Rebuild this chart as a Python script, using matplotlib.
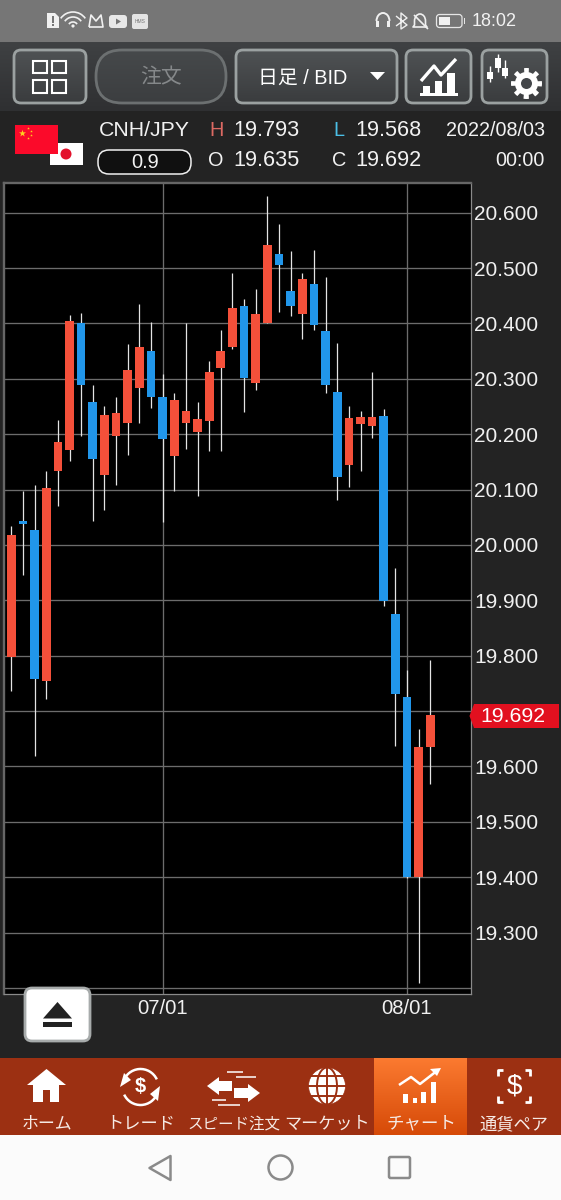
import numpy as np
import matplotlib
matplotlib.use('Agg')
import matplotlib.pyplot as plt
from matplotlib.patches import Rectangle, Polygon, Circle, Ellipse, Arc, FancyBboxPatch

plt.rcParams['font.family'] = ['Liberation Sans', 'Noto Sans CJK JP', 'DejaVu Sans']

# daily candles, oldest first
opens = [19.798, 20.044, 20.027, 19.754, 20.134, 20.171, 20.401, 20.258, 20.126, 20.197,
         20.221, 20.283, 20.351, 20.267, 20.161, 20.220, 20.204, 20.223, 20.320, 20.357,
         20.431, 20.292, 20.400, 20.525, 20.459, 20.417, 20.471, 20.386, 20.276, 20.145,
         20.219, 20.214, 20.233, 19.875, 19.725, 19.401, 19.635]
highs = [20.035, 20.097, 20.108, 20.133, 20.226, 20.415, 20.418, 20.288, 20.251, 20.267,
         20.362, 20.436, 20.403, 20.309, 20.275, 20.400, 20.259, 20.332, 20.389, 20.491,
         20.444, 20.462, 20.630, 20.580, 20.531, 20.491, 20.532, 20.484, 20.364, 20.251,
         20.241, 20.313, 20.245, 19.958, 19.774, 19.667, 19.793]
lows = [19.737, 19.945, 19.619, 19.722, 20.071, 20.151, 20.197, 20.044, 20.063, 20.109,
        20.162, 20.221, 20.247, 20.041, 20.097, 20.174, 20.088, 20.170, 20.170, 20.354,
        20.240, 20.279, 20.400, 20.421, 20.414, 20.372, 20.388, 20.274, 20.082, 20.105,
        20.134, 20.193, 19.890, 19.637, 19.398, 19.209, 19.568]
closes = [20.018, 20.038, 19.758, 20.102, 20.185, 20.405, 20.288, 20.156, 20.235, 20.238,
          20.316, 20.357, 20.268, 20.191, 20.262, 20.241, 20.228, 20.312, 20.351, 20.428,
          20.302, 20.417, 20.542, 20.506, 20.432, 20.481, 20.398, 20.288, 20.123, 20.229,
          20.231, 20.231, 19.899, 19.731, 19.401, 19.635, 19.692]

price_ticks = [20.6, 20.5, 20.4, 20.3, 20.2, 20.1, 20.0, 19.9, 19.8, 19.7, 19.6, 19.5, 19.4, 19.3, 19.2]
price_labels = ['20.600', '20.500', '20.400', '20.300', '20.200', '20.100', '20.000', '19.900',
                '19.800', '', '19.600', '19.500', '19.400', '19.300', '']
date_ticks = [13, 34]
date_labels = ['07/01', '08/01']

tab_names = ['ホーム', 'トレード', 'スピード注文', 'マーケット', 'チャート', '通貨ペア']
tab_centers = [47, 141, 234, 327, 421, 514]
tab_sizes = [12.2, 12.4, 11.2, 12.3, 12.6, 12.4]

UP = '#f4503a'
DOWN = '#2196ea'
BG = '#232323'
TAB = '#9c3012'

fig = plt.figure(figsize=(5.61, 12), dpi=100, facecolor=BG)

# chrome drawn in screen pixels
base = fig.add_axes([0, 0, 1, 1], zorder=0)
base.set_xlim(0, 561)
base.set_ylim(1200, 0)
base.axis('off')
top = fig.add_axes([0, 0, 1, 1], zorder=2)
top.set_xlim(0, 561)
top.set_ylim(1200, 0)
top.axis('off')
top.patch.set_alpha(0)


def gradient(ax, x0, y0, x1, y1, c_top, c_bot, clip=None):
    a = np.array(matplotlib.colors.to_rgb(c_top))
    b = np.array(matplotlib.colors.to_rgb(c_bot))
    g = np.linspace(0, 1, 64)[:, None, None] * (b - a) + a
    im = ax.imshow(g, extent=(x0, x1, y1, y0), aspect='auto', zorder=1, interpolation='bilinear')
    if clip is not None:
        im.set_clip_path(clip)
    ax.set_xlim(0, 561)
    ax.set_ylim(1200, 0)


def rbox(ax, x0, y0, x1, y1, r, fc='none', ec='none', lw=0.0, z=3):
    p = FancyBboxPatch((x0 + r, y0 + r), x1 - x0 - 2 * r, y1 - y0 - 2 * r,
                       boxstyle='round,pad=%f,rounding_size=%f' % (r, r),
                       fc=fc, ec=ec, lw=lw, zorder=z)
    ax.add_patch(p)
    return p


def button(x0, x1, ec='#9ba1a1', r=7, c_top='#4f5254', c_bot='#3a3c3e'):
    p = rbox(base, x0 + 1, 50, x1 - 1, 103, r, fc='none', ec='none')
    gradient(base, x0 + 1, 50, x1 - 1, 103, c_top, c_bot, clip=p)
    rbox(base, x0 + 1, 50, x1 - 1, 103, r, ec=ec, lw=2.0, z=3)


def txt(x, y, s, size, color='white', ha='center', ax=base, **kw):
    ax.text(x, y, s, fontsize=size, color=color, ha=ha, va='center', zorder=6, **kw)


def rect(x0, y0, x1, y1, c, ax=base, z=4):
    ax.add_patch(Rectangle((x0, y0), x1 - x0, y1 - y0, fc=c, ec='none', zorder=z))


def poly(pts, c, ax=base, z=4):
    ax.add_patch(Polygon(pts, closed=True, fc=c, ec='none', zorder=z))


def line(xs, ys, c='white', lw=1.5, ax=base, z=5):
    ax.plot(xs, ys, color=c, lw=lw, zorder=z, solid_capstyle='butt')


# status bar and toolbar
rect(0, 0, 561, 42, '#767676', z=0)
gradient(base, 0, 42, 561, 111, '#3f4143', '#2f3032')

# left status icons
poly([(47, 13), (55, 13), (59, 17), (59, 28), (47, 28)], '#f0f0f0')
rect(52, 16, 54, 23, '#767676', z=5)
rect(52, 24, 54, 26, '#767676', z=5)
for r in (5, 10, 15):
    base.add_patch(Arc((73, 27), 2 * r, 2 * r, theta1=215, theta2=325, ec='#f0f0f0', lw=1.2, zorder=4))
base.add_patch(Circle((73, 26), 1.6, fc='#f0f0f0', ec='none', zorder=4))
line([89, 91, 96, 101, 103, 89], [27, 15, 21, 15, 27, 27], '#f0f0f0', 1.2)
rbox(base, 109, 15, 127, 28, 3, fc='#e8e8e8', z=4)
poly([(116, 18.5), (116, 24.5), (121, 21.5)], '#767676', z=5)
rbox(base, 132, 14, 148, 29, 2, fc='#e4e4e4', z=4)
txt(140, 21.5, 'HMS', 3.6, '#777777')

# right status icons
base.add_patch(Arc((383, 21), 13, 16, theta1=180, theta2=360, ec='#f0f0f0', lw=1.4, zorder=4))
rect(376, 21, 379, 27, '#f0f0f0')
rect(387, 21, 390, 27, '#f0f0f0')
line([396, 407, 401, 401, 407, 396], [16, 25, 29, 13, 18, 26], '#f0f0f0', 1.0)
base.add_patch(Arc((420, 21), 11, 14, theta1=180, theta2=360, ec='#f0f0f0', lw=1.2, zorder=4))
line([414.5, 414.5, 413, 427, 425.5, 425.5], [21, 25, 27, 27, 25, 21], '#f0f0f0', 1.2)
line([414, 428], [15, 29], '#f0f0f0', 1.2)
rbox(base, 436.5, 14.5, 462, 27.5, 3, ec='#e6e6e6', lw=0.9, z=4)
rect(439, 17, 450, 25, '#f0f0f0')
rect(464, 18, 465.5, 24, '#e6e6e6')
txt(472, 21.5, '18:02', 13.0, '#f2f2f2', ha='left')

# toolbar buttons
button(13, 87)
for bx in (33, 52):
    for by in (60.5, 80):
        base.add_patch(Rectangle((bx, by), 14, 12.5, fc='none', ec='white', lw=1.5, zorder=5))

button(95, 227, ec='#6c7071', r=26, c_top='#46494b', c_bot='#3c3e40')
txt(161, 78, '注文', 15, '#85888a')

button(235, 398)
txt(302.5, 78.5, '日足 / BID', 14.3)
poly([(370, 72), (385, 72), (377.5, 80)], 'white')

button(405, 472)
rect(420, 93, 458, 95.5, 'white')
rect(423, 86, 430, 93, 'white')
rect(435, 81, 442, 93, 'white')
rect(447, 73, 455, 93, 'white')
line([421, 434, 441, 456], [81, 66, 75, 59], 'white', 2.4)

button(481, 548)
for cx, y0, y1, w0, w1 in [(490, 66, 82, 72, 79), (498, 54, 72, 58, 68), (505, 60, 78, 68, 76)]:
    line([cx, cx], [y0, y1], 'white', 1.0)
    rect(cx - 2.8, w0, cx + 2.8, w1, 'white')
theta = np.linspace(0, 2 * np.pi, 160, endpoint=False)
gear_r = 11.5 + 4 * (np.cos(8 * theta) > 0)
poly(np.c_[526.5 + gear_r * np.cos(theta), 83.5 + gear_r * np.sin(theta)], 'white')
base.add_patch(Circle((526.5, 83.5), 5.5, fc='#43464a', ec='none', zorder=5))

# header row
rect(15, 125, 58, 153.5, '#fb0a2a', z=4)
rect(50, 143, 83, 165, 'white', z=3)
base.add_patch(Circle((66, 154), 5.5, fc='#e3122c', ec='none', zorder=4))
base.scatter([22], [133], marker='*', s=28, c='#ffd21f', zorder=5, linewidths=0)
base.scatter([28, 31, 31, 28], [128, 131, 135, 138], marker='*', s=4, c='#ffd21f', zorder=5, linewidths=0)

txt(98.5, 130.5, 'CNH/JPY', 15.3, '#f2f2f2', ha='left')
rbox(base, 98, 150, 191, 174, 11, fc='#101010', ec='#f0f0f0', lw=1.1)
txt(145, 162, '0.9', 14.4, '#f2f2f2')
txt(209, 130.5, 'H', 14.3, '#dc6a63', ha='left')
txt(233, 130.5, '19.793', 15.6, '#f2f2f2', ha='left')
txt(333, 130.5, 'L', 14.3, '#4bbfe6', ha='left')
txt(355, 130.5, '19.568', 15.6, '#f2f2f2', ha='left')
txt(545, 130.5, '2022/08/03', 14.2, '#f2f2f2', ha='right')
txt(208.5, 160.5, 'O', 14.3, '#f2f2f2', ha='left')
txt(233, 160.5, '19.635', 15.6, '#f2f2f2', ha='left')
txt(332, 160.5, 'C', 14.3, '#f2f2f2', ha='left')
txt(355, 160.5, '19.692', 15.6, '#f2f2f2', ha='left')
txt(545, 160.5, '00:00', 14.2, '#f2f2f2', ha='right')

# chart panel, mapped so candle 0 sits at x=11.3px and 20.600 at y=212.7px
px_per_candle = 11.64
px_per_price = 553.7
ax = fig.add_axes([4 / 561, (1200 - 994) / 1200, 467 / 561, (994 - 183) / 1200], zorder=1)
ax.set_facecolor('black')
ax.set_xlim((4 - 11.3) / px_per_candle, (471 - 11.3) / px_per_candle)
ax.set_ylim(20.6 - (994 - 212.7) / px_per_price, 20.6 - (183 - 212.7) / px_per_price)

ax.set_yticks(price_ticks)
ax.set_yticklabels(price_labels)
ax.set_xticks(date_ticks)
ax.set_xticklabels(date_labels)
ax.yaxis.tick_right()
ax.tick_params(axis='y', length=0, pad=2.4, labelsize=15, labelcolor='#f0f0f0')
ax.tick_params(axis='x', length=0, pad=3.6, labelsize=14.6, labelcolor='#f0f0f0')
ax.grid(True, color='#6c6c6c', lw=0.95, zorder=0)
ax.set_axisbelow(True)
for name, sp in ax.spines.items():
    sp.set_color('#8a8a8a')
    sp.set_linewidth(0.9)
ax.spines['left'].set_color('#666666')
ax.spines['left'].set_linewidth(1.7)
ax.spines['top'].set_color('#666666')
ax.spines['top'].set_linewidth(1.7)

idx = np.arange(len(opens))
o = np.array(opens)
c = np.array(closes)
colors = [UP if b >= a else DOWN for a, b in zip(opens, closes)]
ax.vlines(idx, lows, highs, color='#e4e4e4', lw=0.9, zorder=2)
ax.bar(idx, np.abs(c - o), bottom=np.minimum(o, c), width=0.745, color=colors, zorder=3)

# last price tag
poly([(469.5, 716), (474, 704), (559, 704), (559, 728), (474, 728)], '#e2101f', ax=top)
txt(512.5, 716.5, '19.692', 15.3, 'white', ax=top)

# eject button
rbox(top, 25, 988, 90, 1041, 7, fc='white', ec='#a7abab', lw=2.0)
poly([(43, 1018.5), (57.5, 1002), (72, 1018.5)], '#222222', ax=top, z=5)
rect(43, 1022.3, 72, 1026.7, '#222222', ax=top, z=5)

# tab bar
rect(0, 1058, 561, 1135, TAB, z=1)
gradient(base, 374, 1058, 467, 1135, '#fb7a30', '#d64a08')
for name, cx, size in zip(tab_names, tab_centers, tab_sizes):
    txt(cx, 1124, name, size, '#f6ebe6')

# house
poly([(27, 1085), (46.5, 1069), (66, 1085), (59, 1085), (59, 1102), (33, 1102), (33, 1085)], 'white')
rect(43, 1090, 50, 1102, TAB, z=5)

# trade arrows around a dollar sign
base.add_patch(Arc((140.5, 1087), 36, 36, theta1=195, theta2=335, ec='white', lw=1.8, zorder=4))
base.add_patch(Arc((140.5, 1087), 36, 36, theta1=20, theta2=155, ec='white', lw=1.8, zorder=4))
poly([(120, 1087), (131, 1080), (124, 1073)], 'white')
poly([(160, 1086), (150, 1094), (158, 1101)], 'white')
txt(140.5, 1086, '$', 14.5, fontweight='bold')

# speed order arrows
poly([(207, 1086), (219, 1077), (219, 1081), (232, 1081), (232, 1091), (219, 1091), (219, 1095)], 'white')
poly([(260, 1093), (248, 1084), (248, 1088), (234, 1088), (234, 1098), (248, 1098), (248, 1102)], 'white')
line([227, 243], [1072, 1072], 'white', 1.1)
line([236, 256], [1077, 1077], 'white', 1.1)
line([212, 226], [1100, 1100], 'white', 1.1)
line([218, 240], [1105, 1105], 'white', 1.1)

# globe
base.add_patch(Circle((327, 1086), 18.5, fc='white', ec='none', zorder=4))
base.add_patch(Ellipse((327, 1086), 20, 37, fc='none', ec=TAB, lw=1.4, zorder=5))
line([327, 327], [1067, 1105], TAB, 1.4)
for gy in (1076, 1086, 1096):
    line([308, 346], [gy, gy], TAB, 1.4)
base.add_patch(Circle((327, 1086), 18.5, fc='none', ec=TAB, lw=0.5, zorder=5))

# chart tab icon
for x0, x1, y0 in [(403, 408, 1094), (413, 417, 1098), (421, 426, 1092), (431, 436, 1082)]:
    rect(x0, y0, x1, 1103, 'white')
line([399, 411, 420, 438], [1085, 1077, 1084, 1070], 'white', 1.8)
poly([(441, 1068), (430, 1069), (437, 1076)], 'white')

# currency pair icon
for x, y, dx, dy in [(498, 1070, 1, 1), (530, 1070, -1, 1), (498, 1102, 1, -1), (530, 1102, -1, -1)]:
    line([x + 5 * dx, x, x], [y, y, y + 6 * dy], 'white', 2.0)
txt(514, 1086, '$', 20)

# android nav bar
rect(0, 1135, 561, 1200, '#fbfbfb', z=1)
base.add_patch(Polygon([(149.5, 1168), (170.5, 1156), (170.5, 1180)], closed=True, fc='none',
                       ec='#8a8a8a', lw=1.8, joinstyle='round', zorder=4))
base.add_patch(Circle((280.5, 1167.5), 12, fc='none', ec='#8a8a8a', lw=1.8, zorder=4))
rbox(base, 389, 1157, 410, 1178, 1.5, ec='#8a8a8a', lw=1.8, z=4)

fig.savefig('out.png', dpi=100, facecolor=BG)
